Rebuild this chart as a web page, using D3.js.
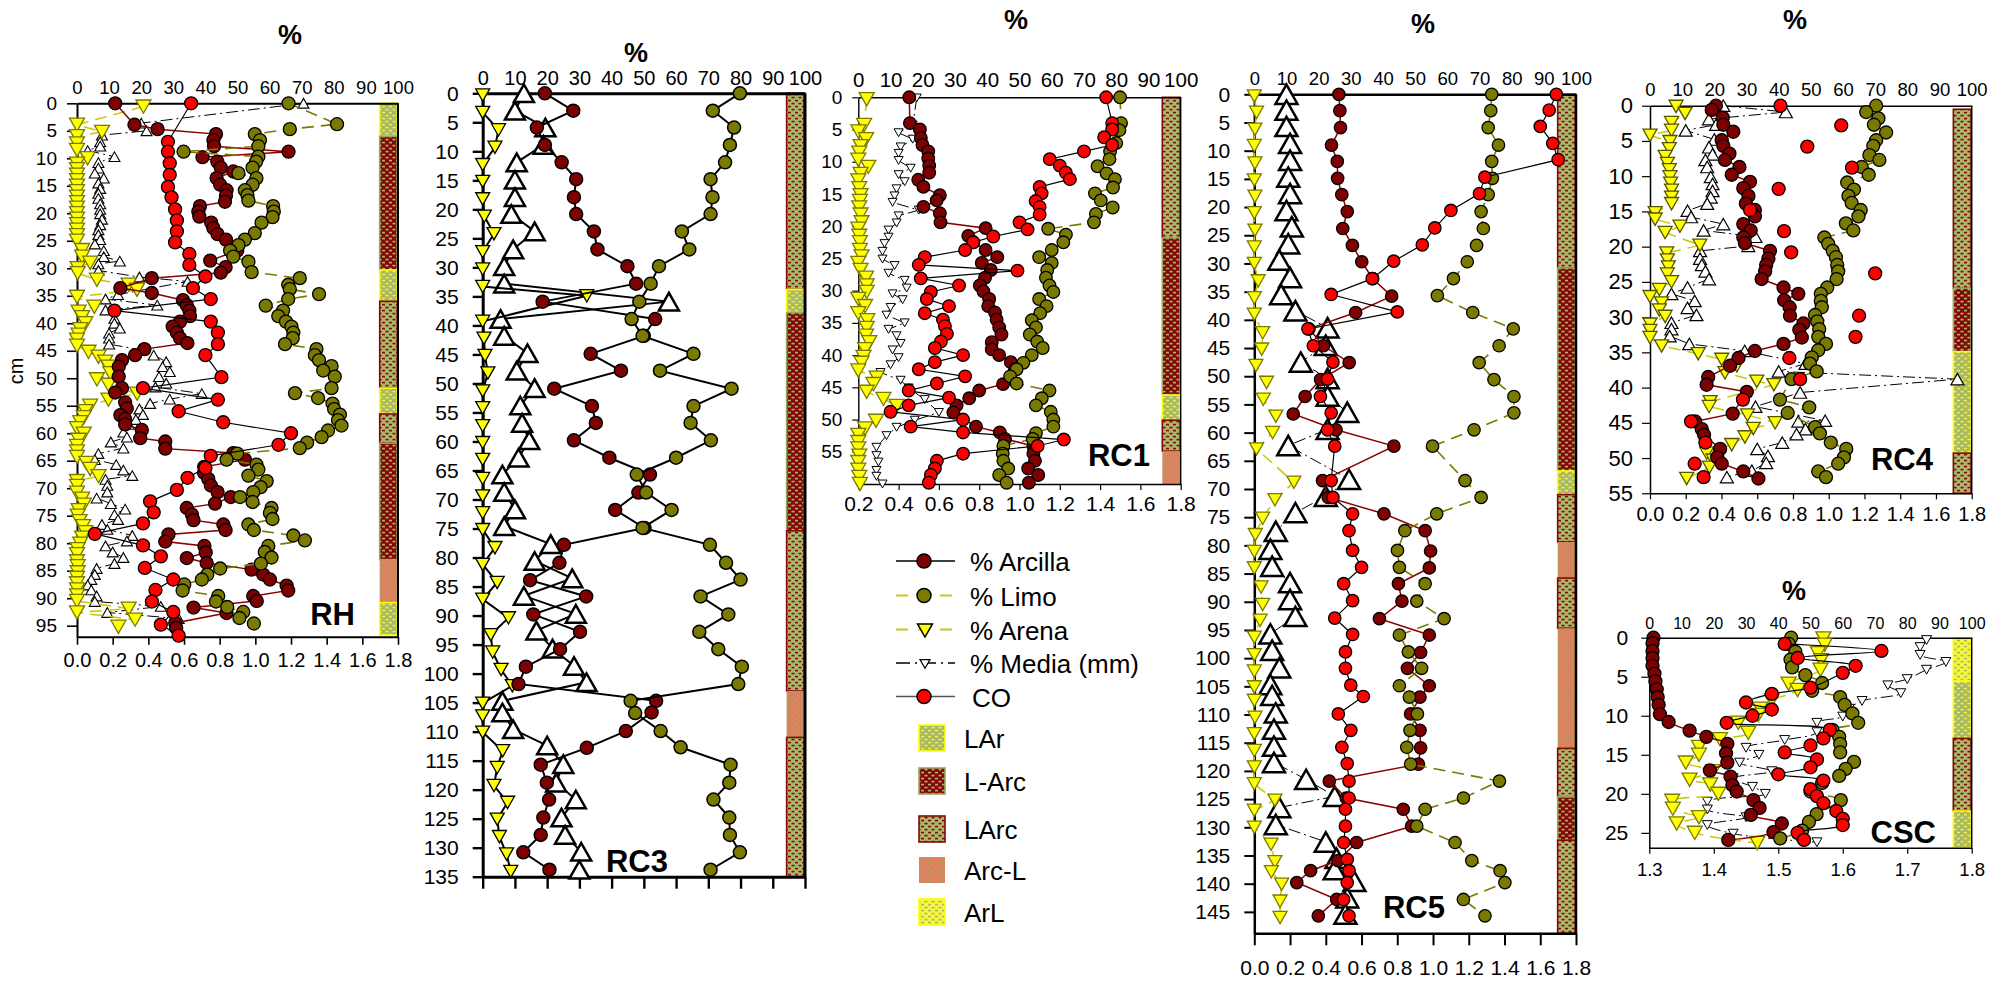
<!DOCTYPE html>
<html>
<head>
<meta charset="utf-8">
<script src="https://cdn.jsdelivr.net/npm/d3@7"></script>
<style>
  body { margin: 0; background: #fff; }
  svg { display: block; }
  text { font-family: "Liberation Sans", Arial, Helvetica, sans-serif; fill: #000; }
</style>
</head>
<body>
<svg id="chart" width="1992" height="983"></svg>
<script>
// ---------------------------------------------------------------
// Soil profiles: particle size (%), median grain (mm) and organic carbon
// Each profile point is [depth in cm, value]
// % series use the 0-100 top axis; Media (mm) and CO use the bottom axis
// ---------------------------------------------------------------
const seriesNames = ["% Arcilla", "% Limo", "% Arena", "% Media (mm)", "CO"];
const textureNames = ["LAr", "L-Arc", "LArc", "Arc-L", "ArL"];
const percentTicks = [0, 10, 20, 30, 40, 50, 60, 70, 80, 90, 100];
const mmTicks = [0, 0.2, 0.4, 0.6, 0.8, 1.0, 1.2, 1.4, 1.6, 1.8];
const rc1MmTicks = [0.2, 0.4, 0.6, 0.8, 1.0, 1.2, 1.4, 1.6, 1.8];
const cscMmTicks = [1.3, 1.4, 1.5, 1.6, 1.7, 1.8];
const rhDepthTicks = [0,5,10,15,20,25,30,35,40,45,50,55,60,65,70,75,80,85,90,95];
const rc3DepthTicks = [0,5,10,15,20,25,30,35,40,45,50,55,60,65,70,75,80,85,90,95,100,105,110,115,120,125,130,135];
const rc1DepthTicks = [0,5,10,15,20,25,30,35,40,45,50,55];
const rc5DepthTicks = [0,5,10,15,20,25,30,35,40,45,50,55,60,65,70,75,80,85,90,95,100,105,110,115,120,125,130,135,140,145];
const rc4DepthTicks = [0,5,10,15,20,25,30,35,40,45,50,55];
const cscDepthTicks = [0,5,10,15,20,25];

// ---------------- RH ----------------
const rhArcilla = [[0,11.9],[3.9,17.9],[4.7,25.1],[5.6,43.3],[6.7,42.5],[7.8,42.7],[8.8,65.9],[9.8,39.1],[10.6,43.7],[11.7,44.8],[12.4,48.7],[13.6,43.5],[14.8,44.6],[15.8,46.6],[16.8,46.4],[17.9,46.1],[18.7,38.3],[19.7,37.8],[20.6,38.1],[21.7,41.8],[22.7,42.5],[23.8,43.8],[24.8,46.4],[26.8,49.9],[28.6,41.5],[29.8,46.3],[30.8,44.8],[31.8,23.3],[33.6,13.5],[34.5,23.3],[35.8,33],[36.7,34.2],[37.7,35],[38.7,35.2],[39.7,32.1],[40.6,29.8],[41.7,31.1],[42.7,32.1],[43.6,34.4],[44.7,21],[45.8,18.1],[46.7,14],[47.9,13],[49.7,13],[51.8,14],[52.6,11.9],[54.4,15],[55.5,15.5],[56.7,13.5],[57.4,15],[58.4,15],[59.4,20.2],[60.9,19.7],[61.5,27.5],[62.8,27.5],[63.6,48.7],[64.8,52.3],[66.1,39.6],[67.2,39.6],[68.3,40.9],[69.5,41.7],[70.7,43.8],[71.6,47.9],[72.8,43],[73.6,34.2],[74.8,35.8],[75.8,36.3],[76.6,45.6],[77.6,46.3],[78.4,28.5],[79.7,27.5],[80.5,39.7],[81.7,40.1],[82.7,34.2],[83.6,40.4],[84.8,54.4],[85.7,58],[86.6,60.1],[87.7,65.3],[88.6,65.8],[89.6,54.9],[90.5,56],[91.7,36.3],[92.7,46.6],[94.5,30.6],[95.4,30.9]];
const rhLimo = [[0,65.9],[3.8,81],[4.7,66.3],[5.6,55.4],[6.7,57],[7.8,56.5],[8.8,33.2],[9.7,56.5],[10.6,55.8],[11.7,54.7],[12.7,50.3],[13.6,55.9],[14.8,54.7],[15.8,52.3],[16.7,53.1],[17.7,53.4],[18.7,61.1],[19.7,61.3],[20.7,60.9],[21.7,57.5],[23.6,55.4],[24.8,52.3],[25.8,50.3],[26.8,47.7],[27.9,48.7],[28.8,53.4],[30.7,54.4],[31.8,69.4],[33,65.8],[33.8,66.3],[34.7,75.4],[35.6,65.8],[36.8,58.8],[37.7,64.2],[38.7,62.7],[39.7,65.1],[40.6,66.8],[41.7,67.4],[42.7,67.2],[43.8,64.8],[44.7,74.6],[45.8,74.1],[46.7,75.4],[47.8,79.3],[48.6,76.7],[49.7,80.3],[51.8,79.3],[52.7,67.9],[53.6,75.1],[54.6,79.6],[55.6,80.1],[56.6,81.9],[57.6,81.3],[58.6,82.4],[59.5,78.2],[60.7,76.2],[61.7,71.7],[62.7,69.4],[63.7,49.9],[64.8,46.6],[65.7,55.9],[66.6,56.5],[67.7,53.4],[68.7,59.1],[69.8,57.2],[70.7,54.9],[71.6,50.8],[72.5,54.7],[73.6,60.6],[74.5,60.1],[75.6,60.9],[76.6,53.4],[77.6,55.1],[78.6,67.4],[79.5,71],[80.5,59.6],[81.6,58.5],[82.6,60.6],[83.7,57.3],[84.6,44.6],[85.7,40.6],[86.6,38.9],[87.5,33.4],[88.6,32.9],[89.6,44],[90.6,43.3],[91.6,46.8],[92.5,51.8],[93.6,50.6],[94.6,55.1]];
const rhArena = [[0.6,20.7],[3.9,0],[5.2,7.8],[6,0],[7.3,0],[8.5,0],[10,3.3],[11,0],[12,0],[13,0],[14,0],[15,0],[16,0],[17,0],[18,0],[19,0],[20,0],[21,0],[22,0],[23,0],[24,0],[25,0],[26.7,1.6],[27.9,1.6],[29,4.1],[30,0.2],[30.9,0.2],[32.1,6.2],[33,16.1],[33.9,18.7],[35.2,0],[37,5.4],[37.9,0.5],[38.9,1.6],[40,2.6],[41.1,1],[42.1,0.5],[43,0],[44.1,0],[45.2,3.6],[46.1,6.7],[47,8.8],[47.9,9.8],[49.1,10.4],[50.2,6.2],[51.2,9.8],[52.8,18.7],[53.9,9.8],[55,4.1],[56,2.6],[57.1,2.1],[58,1],[59.1,0],[60.1,2.1],[61.2,0.5],[62.3,0],[63.3,0],[64.3,0],[65.4,2.9],[66.5,4.1],[67.8,6.7],[68.7,0],[69.6,0],[70.8,0],[71.9,1.6],[73,2.1],[74,0.5],[75,0.2],[76,0.8],[76.9,1.9],[78,2.6],[79,1.6],[80.1,1],[81.1,0.2],[82,0],[83.3,0],[84.2,0.2],[85.3,0.2],[86.3,0],[87.3,0],[88.4,0],[89.5,0],[90.5,0],[91.9,16.1],[92.6,0],[93.9,18.1],[95.2,12.9]];
const rhMedia = [[0,1.27],[3.6,0.36],[5,0.39],[5.8,0.14],[7,0.13],[7.8,0.13],[8.6,0.06],[9.7,0.21],[10.8,0.12],[11.8,0.12],[12.7,0.10],[13.6,0.15],[14.5,0.12],[15.5,0.13],[16.4,0.12],[17.3,0.12],[18.3,0.13],[19.3,0.13],[20.1,0.13],[21.1,0.14],[22.1,0.13],[23,0.12],[23.9,0.12],[24.8,0.13],[25.6,0.10],[26.8,0.15],[27.9,0.15],[28.7,0.24],[29.2,0.12],[30.4,0.12],[31.6,0.35],[32.4,0.62],[34.8,0.23],[35.6,0.16],[36.7,0.45],[37.6,0.16],[39.1,0.21],[40,0.21],[40.9,0.24],[41.8,0.18],[42.7,0.18],[43.8,0.18],[44.8,0.35],[45.8,0.43],[47,0.50],[47.9,0.48],[48.8,0.52],[49.7,0.46],[50.9,0.50],[51.6,0.44],[52.8,0.70],[53.8,0.52],[54.6,0.41],[55.6,0.35],[56.6,0.37],[57.5,0.33],[58.4,0.29],[59.8,0.26],[60.7,0.28],[61.6,0.19],[62.7,0.26],[63.7,0.12],[64.8,0.10],[65.7,0.22],[66.7,0.26],[67.7,0.31],[68.4,0.16],[69.5,0.17],[70.7,0.17],[71.8,0.11],[72.8,0.19],[73.8,0.27],[74.8,0.21],[75.7,0.23],[76.6,0.14],[77.5,0.17],[78.6,0.31],[79.6,0.28],[80.5,0.16],[81.6,0.20],[82.6,0.26],[83.7,0.21],[84.6,0.11],[85.7,0.10],[86.6,0.08],[87.6,0.06],[88.5,0.08],[89.6,0.11],[90.6,0.10],[91.5,0.47],[92.6,0.17],[93.7,0.57]];
const rhCO = [[0,0.64],[7,0.51],[8.8,0.51],[10.9,0.52],[13,0.52],[15.2,0.51],[17.1,0.53],[19.3,0.55],[21.3,0.56],[23.3,0.56],[25.3,0.55],[27.4,0.63],[29.4,0.63],[31.5,0.72],[33.6,0.65],[35.6,0.75],[37.7,0.21],[39.7,0.75],[41.7,0.79],[43.8,0.79],[45.8,0.72],[49.8,0.81],[51.8,0.37],[53.9,0.79],[56,0.57],[58,0.82],[60,1.20],[62.1,1.13],[64.1,0.75],[66.3,0.72],[68.1,0.62],[70.3,0.56],[72.4,0.41],[74.4,0.43],[76.4,0.37],[78.3,0.10],[80.4,0.37],[82.4,0.47],[84.5,0.38],[86.6,0.54],[88.5,0.44],[90.6,0.42],[92.5,0.54],[94.8,0.47],[96.8,0.57]];
const rhLayers = [["LAr",0,6],["L-Arc",6,30.3],["LAr",30.3,36],["LArc",36,51.8],["LAr",51.8,56.5],["LArc",56.5,61.8],["L-Arc",61.8,83],["Arc-L",83,90.8],["LAr",90.8,96.7]];

// ---------------- RC3 ----------------
const rc3Arcilla = [[0,19.3],[3,28.1],[5.9,16.8],[8.9,19.3],[11.9,24.5],[14.8,29],[17.9,28.3],[20.8,29],[23.8,34.5],[26.9,35.6],[29.8,44.9],[32.8,47.6],[35.9,18.6],[38.9,53.5],[41.8,50],[44.9,33.5],[47.8,42.9],[50.9,22.2],[53.9,33.9],[56.8,35.1],[59.8,28.3],[62.8,39.3],[65.7,51.9],[68.8,48.3],[71.8,41.1],[74.9,50.2],[77.8,25.2],[80.9,23.8],[83.9,14.7],[86.7,32.1],[89.8,15.7],[92.8,30.2],[95.8,24],[98.8,13.4],[101.8,11.1],[104.7,53.8],[106.7,52.4],[109.9,44.4],[112.8,32.3],[115.7,18],[118.8,19.9],[121.7,20.6],[124.8,18.8],[127.8,18],[130.8,12.6],[133.8,20.7]];
const rc3Limo = [[0,79.8],[3,71.4],[5.9,78],[8.9,76.7],[11.9,75.2],[14.8,70.7],[17.9,71.3],[20.8,70.7],[23.8,61.8],[26.9,64.1],[29.8,54.7],[32.8,52.1],[35.9,48.6],[38.9,46.2],[41.8,49.6],[44.9,65.4],[47.8,55],[50.9,77.2],[53.9,65.4],[56.8,64.5],[59.8,70.8],[62.8,60],[65.7,47.8],[68.8,50.7],[71.8,58.6],[74.9,49.6],[77.8,70.5],[80.9,75.5],[83.8,80],[86.7,67.6],[89.8,76.2],[92.8,67.2],[95.8,73.1],[98.8,80.4],[101.8,79.3],[104.7,45.9],[106.8,47.3],[109.9,55.2],[112.7,61.4],[115.7,76.9],[118.8,76.5],[121.7,71.6],[124.8,76.5],[127.8,76.7],[130.8,79.8],[133.8,70.7]];
const rc3Arena = [[0.3,0],[3.3,0],[6.3,4.9],[9.3,3.8],[12.3,0],[15.2,0],[18.2,0],[21.2,0.5],[24.2,3.5],[27.3,0],[30.3,0],[33.3,0],[34.9,32.3],[39.3,0],[42.2,0.4],[45.2,0.7],[48.2,1.6],[51.3,0],[54.2,0],[57.3,0],[60.2,0],[63.1,0],[66.4,0],[69.4,0],[72.3,0],[75.2,0],[78.3,3.8],[81.2,0],[84.3,4.5],[87.2,0],[90.4,8],[93.3,2.5],[96.3,3.1],[99.3,5.7],[102.1,9.2],[105.1,0],[107.3,0],[110.1,0],[113.3,6.2],[116.2,4.5],[119.3,3.5],[122.2,7.7],[125.1,4.5],[128.1,5.2],[131.1,7.4],[134.1,8.7]];
const rc3Media = [[0,0.23],[3,0.18],[5.9,0.35],[8.9,0.34],[11.9,0.19],[14.9,0.18],[17.9,0.18],[20.8,0.16],[23.8,0.29],[26.9,0.17],[29.8,0.12],[32.8,0.12],[35.9,1.04],[38.9,0.10],[41.8,0.12],[44.8,0.25],[47.8,0.19],[50.8,0.29],[53.8,0.21],[56.8,0.22],[59.8,0.26],[62.8,0.20],[65.7,0.11],[68.7,0.12],[71.7,0.18],[74.6,0.12],[77.7,0.38],[80.6,0.29],[83.6,0.50],[86.6,0.23],[89.7,0.52],[92.6,0.30],[95.7,0.39],[98.7,0.51],[101.5,0.58],[104.7,0.11],[106.7,0.11],[109.6,0.17],[112.4,0.36],[115.6,0.45],[118.8,0.41],[121.7,0.52],[124.8,0.44],[127.8,0.46],[130.7,0.55],[133.8,0.54]];
const rc3Layers = [["LArc",0,33.8],["LAr",33.8,37.8],["L-Arc",37.8,75.4],["LArc",75.4,103],["Arc-L",103,111],["LArc",111,135]];

// ---------------- RC1 ----------------
const rc1Arcilla = [[0,15.8],[4,16],[5,19.1],[6.3,19.4],[7.4,19.9],[8.4,21.7],[9.5,21.7],[10.6,22],[11.7,22],[12.8,18.6],[13.9,20.2],[15.2,25.3],[16,24.3],[17,20.2],[18,25.3],[19.4,25.5],[20.3,39.5],[21.5,34.1],[22.5,35.7],[23.7,39.5],[24.8,43.1],[25.7,38.3],[26.8,41.1],[28,39.3],[29.2,37.7],[30.1,38.8],[31.3,40.6],[32.4,40.3],[33.4,42.4],[34.5,42.9],[35.7,43.7],[36.8,44.4],[38,41.4],[39.1,41.4],[40,43.7],[41.1,47.3],[42.2,48.6],[44.5,44.9],[45.5,37.5],[46.7,34.4],[47.8,30.5],[48.9,29.5],[51.1,36.5],[52,43.9],[53,45.5],[54.1,54.3],[55.3,54.3],[56.4,54.8],[57.6,52.7],[58.6,55.8],[59.8,52.9]];
const rc1Limo = [[0,81.2],[4,81.5],[5.1,81],[7.1,80],[8.4,78.1],[9.6,77.9],[10.7,74.2],[11.8,77],[12.7,79.6],[14,79],[14.9,73.4],[16,75.2],[17.1,78.9],[18.1,73.7],[19.4,73.1],[20.4,58.9],[21.3,64.4],[22.5,63.6],[23.7,60],[24.8,56.1],[25.7,60],[26.8,58.6],[28,58.2],[29.2,59.3],[30.2,60.5],[31.3,56.1],[32.4,58.4],[33.5,56.4],[34.6,53.8],[35.7,55.1],[36.8,53.2],[37.9,55.5],[38.9,57.2],[40,53.8],[41.2,51.2],[42.2,49.1],[43.3,47.1],[44.4,49.1],[45.5,59.3],[46.7,56.9],[47.8,55.1],[48.8,59.7],[50,60.5],[51.1,60.5],[52.1,55.1],[53,54.1],[54.1,45],[55.3,44.8],[56.4,45],[57.6,46.5],[58.6,43.7],[59.8,46]];
const rc1Arena = [[0.3,2.6],[4.3,1.8],[5.3,0],[6.5,2.4],[7.6,0.7],[8.6,0.3],[9.7,0],[10.8,3.1],[11.9,0.7],[12.9,0],[14.1,0.3],[15.2,0.7],[16.1,0.5],[17.1,0.3],[18.2,0.7],[19.4,1],[20.4,0],[21.5,0.3],[22.5,0.5],[23.7,0.5],[24.7,1],[25.7,0],[26.8,0.7],[28,2.4],[29.2,2.6],[30.2,2.6],[31.3,0],[32.4,2.1],[33.5,0],[34.6,2.8],[35.8,2.6],[37,2.4],[38,3.4],[39.1,2.1],[40.3,1.6],[41.2,1],[42.4,0],[43.5,5.7],[44.5,4.7],[45.7,2.6],[46.8,7.8],[47.9,11.9],[50.2,5.5],[51.4,2.1],[52.4,0],[53.5,0],[54.5,0],[55.6,0.3],[56.6,0],[57.8,0],[58.9,0.3],[60,0.5]];
const rc1Media = [[0.1,0.49],[4.3,0.47],[5.5,0.40],[6.5,0.47],[7.7,0.41],[8.7,0.40],[9.8,0.40],[11,0.46],[12,0.40],[13.1,0.43],[14.2,0.39],[15.3,0.38],[16.3,0.37],[17.5,0.50],[18.4,0.40],[19.5,0.39],[20.6,0.35],[21.7,0.35],[22.7,0.33],[23.9,0.32],[25.1,0.32],[26.1,0.38],[27.3,0.35],[28.4,0.43],[29.6,0.44],[30.5,0.37],[31.4,0.42],[32.6,0.36],[33.8,0.34],[35,0.43],[36,0.35],[37,0.39],[38.2,0.41],[39.2,0.37],[40.4,0.40],[41.5,0.36],[42.7,0.31],[43.9,0.41],[45.1,0.45],[46.9,0.53],[48.9,0.60],[50.1,0.48],[51.2,0.39],[52.5,0.34],[54.3,0.29],[55.6,0.29],[56.6,0.30],[57.9,0.29],[58.8,0.29],[60,0.32]];
const rc1CO = [[0,1.43],[4,1.46],[5,1.46],[6.2,1.42],[7.4,1.46],[8.4,1.32],[9.6,1.15],[10.6,1.20],[11.7,1.23],[12.7,1.25],[13.9,1.10],[14.9,1.11],[16.1,1.08],[17,1.10],[18.2,1.10],[19.4,1.00],[20.5,1.04],[21.6,0.87],[22.5,0.77],[23.7,0.73],[24.8,0.53],[26,0.50],[26.9,0.99],[28.1,0.51],[29.2,0.70],[30.2,0.56],[31.3,0.54],[32.4,0.65],[33.5,0.53],[34.5,0.62],[35.5,0.63],[36.7,0.64],[37.9,0.61],[38.9,0.58],[40,0.72],[41.1,0.58],[42.2,0.50],[43.3,0.73],[44.4,0.59],[45.5,0.45],[46.6,0.65],[47.8,0.45],[48.8,0.36],[50,0.72],[51.1,0.46],[52,0.72],[53.1,1.22],[54.1,1.09],[55.3,0.72],[56.4,0.59],[57.6,0.58],[58.6,0.56],[59.8,0.55]];
const rc1Layers = [["LArc",0,21.8],["L-Arc",21.8,46.2],["LAr",46.2,50.1],["LArc",50.1,54.9],["Arc-L",54.9,60]];

// ---------------- RC5 ----------------
const rc5Arcilla = [[0,26.3],[2.9,26.6],[5.9,26.8],[9,24],[11.9,25.8],[14.9,25.9],[17.8,27.2],[20.8,28.9],[23.8,27.5],[26.8,30.5],[29.7,33.4],[32.7,36.8],[35.8,42.7],[38.7,31.5],[41.6,17],[44.6,21.5],[47.6,29.5],[50.6,20.6],[53.6,15.8],[56.7,12.1],[59.5,25.4],[62.4,43.4],[68.5,21.2],[71.5,23],[74.4,40.3],[77.4,53.1],[81,54.8],[84,54.4],[86.8,44.8],[89.9,45.9],[93,38.9],[95.9,54.4],[99,51.7],[101.8,47.6],[104.9,54.4],[106.9,51.5],[109.9,48.6],[112.8,51.5],[115.9,51.7],[118.8,51],[121.8,23.3],[124.8,28.6],[126.8,46.3],[129.8,48.9],[132.7,31.8],[135.9,26],[137.7,17.5],[139.8,13.2],[142.8,25.6],[145.7,19.9]];
const rc5Limo = [[0,73.8],[2.9,73.5],[5.9,72.7],[9,75.9],[11.9,73.8],[14.9,74],[17.8,72.7],[20.8,70.5],[23.8,71.2],[26.8,69.1],[29.7,66.2],[32.7,61.9],[35.7,56.9],[38.7,67.9],[41.6,80.5],[44.6,76.1],[47.6,69.9],[50.6,74.5],[53.6,80.7],[56.5,80.7],[59.5,68.3],[62.4,55.4],[68.5,65.5],[71.5,70.5],[74.4,56.7],[77.4,46.8],[80.9,44.5],[83.9,45.1],[86.8,53.1],[89.9,50.5],[93,59],[95.9,45.1],[98.9,47.9],[101.8,52],[104.9,45.1],[106.9,48.2],[109.9,50.7],[112.8,48.4],[115.8,47.4],[118.8,48.6],[121.8,76.2],[124.8,65],[126.8,53.1],[129.8,50.5],[132.7,62.4],[135.9,67.6],[137.7,76.4],[139.8,77.9],[142.8,65],[145.7,71.7]];
const rc5Arena = [[0.3,0],[3.2,0.7],[6.2,0.2],[9.1,0],[12.2,0.2],[15.2,0],[18.1,0.2],[21,0],[24.1,0.2],[27.1,0],[30,0],[33.1,1.2],[36.1,0],[39,0],[42.3,2.6],[45.2,2.3],[48.1,0.5],[51.1,3.8],[54.1,2.8],[57.1,6.7],[60,5.7],[62.9,0.7],[68.8,12.3],[71.9,6.4],[75.2,2.6],[78.1,0.3],[81.1,0],[84,0],[87.4,2.1],[90.5,2.6],[93.3,1.8],[96.3,0],[99.4,0],[102.3,0],[105.1,0],[107.5,0],[110.5,0.2],[113.4,0],[116.4,0],[119.3,0],[122.3,0],[125.2,6.4],[127,0],[130,0],[133,5.2],[136.1,6.4],[137.9,5.3],[140.1,8.5],[143.1,8],[146,8]];
const rc5Media = [[0,0.18],[2.8,0.18],[5.7,0.18],[8.7,0.20],[11.7,0.20],[14.7,0.19],[17.6,0.20],[20.6,0.18],[23.5,0.21],[26.5,0.19],[29.4,0.14],[32.5,0.20],[35.5,0.15],[38.4,0.23],[41.4,0.41],[44.5,0.40],[47.5,0.26],[50.4,0.41],[53.5,0.41],[56.4,0.52],[59.4,0.41],[62.3,0.19],[68.3,0.53],[71.3,0.40],[74.2,0.23],[77.5,0.12],[80.7,0.09],[83.7,0.10],[86.6,0.20],[89.6,0.20],[92.6,0.23],[95.7,0.09],[98.6,0.10],[101.7,0.14],[104.7,0.09],[106.6,0.10],[109.7,0.12],[112.6,0.11],[115.6,0.11],[118.5,0.11],[121.5,0.29],[124.5,0.45],[126.5,0.14],[129.5,0.12],[132.6,0.40],[135.5,0.46],[137.5,0.45],[139.6,0.56],[142.5,0.52],[145.4,0.51]];
const rc5CO = [[0,1.69],[2.8,1.65],[5.7,1.60],[8.7,1.67],[11.6,1.70],[14.7,1.29],[17.6,1.26],[20.6,1.10],[23.7,1.01],[26.7,0.94],[29.6,0.78],[32.7,0.66],[35.5,0.43],[38.6,0.80],[41.6,0.30],[44.6,0.33],[47.5,0.44],[50.5,0.41],[53.6,0.37],[56.5,0.43],[59.5,0.41],[62.4,0.45],[68.5,0.43],[71.5,0.44],[74.4,0.55],[77.4,0.53],[80.9,0.55],[83.9,0.60],[86.8,0.50],[89.8,0.55],[92.9,0.45],[95.8,0.55],[98.9,0.51],[101.8,0.51],[104.8,0.54],[106.8,0.61],[109.9,0.47],[112.8,0.54],[115.8,0.49],[118.7,0.52],[121.8,0.53],[124.8,0.53],[126.8,0.51],[129.8,0.51],[132.7,0.50],[135.7,0.52],[137.7,0.53],[139.8,0.52],[142.8,0.50],[145.7,0.53]];
const rc5Layers = [["LArc",0,30.8],["L-Arc",30.8,66.8],["LAr",66.8,71],["LArc",71,79.4],["Arc-L",79.4,85.8],["LArc",85.8,94.7],["Arc-L",94.7,116],["LArc",116,124.6],["L-Arc",124.6,132.3],["LArc",132.3,148.8]];

// ---------------- RC4 ----------------
const rc4Arcilla = [[0,20.5],[0.6,19.2],[1.7,22.6],[2.7,22.8],[3.7,25.9],[4.9,22.3],[5.7,22.8],[6.8,24.7],[7.7,23.3],[8.7,27.8],[9.8,25.4],[10.8,31.1],[11.7,29],[12.8,30.6],[13.9,29.8],[14.8,32.6],[15.7,32.6],[16.8,29],[17.7,31.3],[18.7,29],[19.5,29.5],[20.6,37.3],[21.7,36.8],[22.6,36.1],[23.5,35.8],[24.6,34.7],[25.8,41.5],[26.7,46.1],[27.6,41.7],[28.6,43.4],[29.8,43.5],[30.9,47.7],[31.8,46.4],[32.9,47.2],[33.8,41.5],[34.8,32.6],[35.8,27.5],[36.9,24.9],[38.5,18.1],[39.6,17.6],[40.6,30.1],[43.7,25.7],[44.8,14],[45.9,16.1],[46.7,16.8],[48.7,21.8],[49.9,20.9],[50.8,22.3],[51.9,29],[52.9,33.7]];
const rc4Limo = [[0,70.3],[0.9,67.2],[1.8,71],[2.7,69.6],[3.8,73.4],[4.9,70.3],[5.7,69.4],[7,68.2],[7.7,71.3],[8.7,65.8],[9.8,68],[10.9,61.3],[11.9,63.4],[12.8,61.7],[13.8,62.7],[14.8,65.5],[15.7,64.8],[16.7,60.9],[17.7,63.2],[18.7,54.2],[19.6,55.4],[20.6,56.8],[21.5,57.8],[22.6,58.2],[23.5,58.5],[24.6,58],[25.8,55.1],[26.7,53.1],[27.7,53.1],[28.6,53.4],[29.7,51.3],[30.6,52],[31.7,52.6],[32.8,52.3],[33.8,54.7],[34.7,52.3],[35.7,50.3],[36.6,49.7],[37.7,51.8],[38.8,44],[41.7,40.4],[42.8,49.5],[43.6,42.8],[45.6,51.3],[46.5,52.8],[47.8,56.2],[48.7,61],[49.9,60.3],[50.8,58.5],[51.9,52.3],[52.7,54.7]];
const rc4Arena = [[0.1,8.1],[1.1,10.9],[2.4,6.7],[3.5,6.7],[4.2,0],[5.1,6.2],[6.1,6],[7.2,4.7],[8.2,5.4],[9.1,6],[10.1,6.2],[11,6.4],[12,6.7],[13,6.7],[13.9,6.7],[15.2,1.6],[16.1,1.6],[17.1,9.3],[18,4.7],[19.8,15.5],[20.9,5.2],[21.9,5.4],[22.9,5.7],[23.9,5.4],[25,6.7],[26.1,2.9],[27.1,0],[28,3.6],[29,2.9],[29.9,4.7],[31,0],[31.9,0],[32.9,0],[34.1,3.6],[35.2,15],[36,22.3],[36.9,27],[37.9,23.3],[39.1,33.2],[39.6,38.5],[42,18.7],[42.7,18.4],[43.9,30.3],[45,38.9],[45.8,32.1],[47,29.5],[48.1,25.4],[49.3,17.6],[50.3,19.6],[51.3,18.5],[52.9,11.4]];
const rc4Media = [[0,0.41],[0.9,0.76],[1.9,0.33],[2.7,0.37],[3.5,0.20],[4.8,0.36],[5.9,0.33],[6.9,0.35],[7.7,0.31],[8.7,0.32],[10.1,0.34],[11.1,0.35],[12.1,0.35],[13,0.34],[13.9,0.32],[14.9,0.21],[15.8,0.23],[16.8,0.41],[17.7,0.30],[18.6,0.59],[19.9,0.55],[20.6,0.28],[21.7,0.28],[22.6,0.29],[23.5,0.31],[24.6,0.33],[25.8,0.21],[26.7,0.12],[27.7,0.25],[28.7,0.21],[29.7,0.26],[30.8,0.12],[31.7,0.12],[32.7,0.11],[33.8,0.22],[34.8,0.53],[36.6,0.87],[37.7,0.72],[38.8,1.72],[40.7,0.84],[42.7,0.59],[44.7,0.98],[44.8,0.83],[45.9,0.87],[46.6,0.82],[47.8,0.74],[48.7,0.60],[49.7,0.66],[50.7,0.65],[51.8,0.57],[52.7,0.43]];
const rc4CO = [[0,0.73],[2.8,1.07],[5.8,0.88],[8.8,1.13],[11.8,0.72],[14.8,0.56],[17.8,0.75],[20.8,0.79],[23.8,1.26],[29.8,1.17],[32.8,1.15],[35.8,0.78],[38.8,0.84],[41.7,0.52],[44.8,0.23],[47.8,0.31],[50.8,0.25],[52.7,0.30]];
const rc4Layers = [["LArc",0.5,25.9],["L-Arc",25.9,34.9],["LAr",34.9,49.3],["LArc",49.3,55]];

// ---------------- CSC ----------------
const cscArcilla = [[0,1.3],[0.7,1],[1.7,1],[2.6,1],[3.6,1],[4.6,1.6],[5.6,1.9],[6.6,2.3],[7.6,2.6],[8.6,2.9],[9.8,3.3],[10.8,6],[11.9,12.5],[12.7,17.7],[13.6,24.2],[14.8,23.8],[16,24.2],[17,18.8],[17.8,25.2],[18.9,25.8],[19.7,27.1],[20.8,32.3],[21.8,34.2],[22.7,31.5],[23.8,41.1],[24.9,38.5],[25.9,24.5]];
const cscLimo = [[0,44],[0.8,43.3],[1.8,45.3],[2.8,43.8],[3.8,44.3],[4.8,48.4],[5.8,53.6],[6.8,50.5],[7.6,59.2],[8.6,60.6],[9.7,63],[10.9,64.8],[11.8,56.8],[12.7,58.9],[13.6,59.2],[14.7,59.2],[15.9,63.5],[16.8,60.9],[17.7,58.9],[18.6,53.6],[19.7,50],[20.8,59.4],[22.6,51.9],[23.6,49.5],[24.7,47.4],[25.7,40.6]];
const cscArena = [[0.1,54],[0.9,54.4],[2,52.3],[2.9,53.3],[4.1,53.1],[5.9,43.2],[6.7,46],[8,38],[9.1,34.4],[9.9,33.8],[10.9,27.6],[12.2,30.7],[13,21.9],[14,15.4],[15,15.4],[16,11.3],[17.1,19.8],[18.2,12.5],[18.8,18.9],[20,21.4],[20.9,7.1],[21.9,7.3],[23,15.4],[23.8,8.5],[25,14.1],[26.3,33.5]];
const cscMedia = [[0.3,1.73],[1.2,1.72],[2.2,1.72],[3.1,1.76],[4.1,1.73],[5.3,1.70],[6.1,1.67],[7.1,1.69],[8.1,1.63],[9.1,1.61],[10.1,1.60],[10.9,1.56],[12.1,1.56],[13.1,1.51],[14.1,1.45],[15,1.47],[16,1.44],[17.1,1.49],[18,1.43],[19.1,1.46],[20,1.48],[21,1.39],[22,1.39],[23,1.45],[24,1.39],[25.1,1.43],[26.2,1.56]];
const cscCO = [[0.8,1.51],[1.7,1.66],[2.6,1.53],[3.6,1.62],[4.5,1.60],[6.4,1.55],[7.2,1.49],[8.3,1.45],[9.2,1.49],[10,1.46],[10.9,1.42],[11.8,1.58],[12.9,1.57],[13.8,1.55],[14.7,1.51],[15.6,1.56],[16.6,1.55],[17.5,1.50],[18.3,1.57],[19.4,1.55],[20.3,1.56],[21.2,1.57],[22.2,1.59],[23.2,1.60],[24,1.60],[25,1.53],[25.9,1.54]];
const cscLayers = [["ArL",0,5.6],["LAr",5.6,12.9],["LArc",12.9,22.2],["LAr",22.2,26.9]];

// ---------------------------------------------------------------
// Appearance
// ---------------------------------------------------------------
const COLORS = { arcilla: "#7f0000", limo: "#7a7a00", arena: "#ffff00", media: "#ffffff", co: "#ff0000" };

const textureStyle = {
  "LAr":   { bg: "#a8b86b", fg: "#f0f040", dot: [3, 1.6], border: "#ffff00" },
  "L-Arc": { bg: "#850808", fg: "#a8b86b", dot: [3, 1.6], border: "#9aa760" },
  "LArc":  { bg: "#a8b86b", fg: "#850808", dot: [3, 1.6], border: "#850808" },
  "Arc-L": { bg: "#d9825e", fg: "#9fb26a", dot: [1.2, 1.2], border: null },
  "ArL":   { bg: "#f6f63a", fg: "#a8b86b", dot: [3, 1.6], border: "#ffff00" }
};

const blackLines = {
  arcilla: { c: "#000", w: 2 }, limo: { c: "#000", w: 2 }, arena: { c: "#000", w: 2 },
  media: { c: "#000", w: 2 }, co: { c: "#000", w: 2 }
};
const colourLines = {
  arcilla: { c: "#8b0000", w: 1.5 },
  limo: { c: "#7a7a00", w: 1.6, dash: "12,7" },
  arena: { c: "#c8c800", w: 1.5, dash: "12,7" },
  media: { c: "#000", w: 1, dash: "12,4,2,4" },
  co: { c: "#000", w: 1.2 }
};

const panels = [
  { name: "RH", left: 77, right: 398, top: 103.3, bottom: 636.7, depthMax: 97,
    depthTicks: rhDepthTicks, mmDomain: [0, 1.8], mmTicks: mmTicks, mmLabels: true,
    data: { arcilla: rhArcilla, limo: rhLimo, arena: rhArena, media: rhMedia, co: rhCO }, layers: rhLayers,
    axisW: 2, yFont: 19, yTick: 10, yPad: 10, topFont: 18.5, topPad: 9, botFont: 20, botTick: 8, botPad: 8,
    r: 6.5, arenaW: 15, arenaStroke: "#7a7a00", mediaW: 11, mediaDown: false, mediaSW: 1.1, markSW: 1.3,
    lines: colourLines, title: [290, 44], label: [355, 625] },
  { name: "RC3", left: 482.7, right: 805, top: 93.3, bottom: 876.7, depthMax: 135,
    depthTicks: rc3DepthTicks, mmDomain: [0, 2], mmTicks: [0,0.2,0.4,0.6,0.8,1,1.2,1.4,1.6,1.8,2], mmLabels: false,
    data: { arcilla: rc3Arcilla, limo: rc3Limo, arena: rc3Arena, media: rc3Media }, layers: rc3Layers,
    axisW: 3, yFont: 21, yTick: 10, yPad: 14, topFont: 20, topPad: 8, botFont: 20, botTick: 12, botPad: 8,
    r: 6.5, arenaW: 14, arenaStroke: "#000", mediaW: 20, mediaDown: false, mediaSW: 2.5, markSW: 1.5,
    lines: blackLines, title: [636, 62], label: [668, 872], mediaScale: [0, 1.8] },
  { name: "RC1", left: 858.3, right: 1180.7, top: 97.3, bottom: 484, depthMax: 60,
    depthTicks: rc1DepthTicks, mmDomain: [0.2, 1.8], mmTicks: rc1MmTicks, mmLabels: true,
    data: { arcilla: rc1Arcilla, limo: rc1Limo, arena: rc1Arena, media: rc1Media, co: rc1CO }, layers: rc1Layers,
    axisW: 1.4, yFont: 19, yTick: 6, yPad: 10, topFont: 20.5, topPad: 10, botFont: 21, botTick: 6, botPad: 6,
    r: 6.3, arenaW: 15, arenaStroke: "#7a7a00", mediaW: 9, mediaDown: true, mediaSW: 1, markSW: 1.3,
    lines: colourLines, title: [1016, 29], label: [1150, 466] },
  { name: "RC5", left: 1254.3, right: 1576, top: 94.3, bottom: 933.3, depthMax: 148.8,
    depthTicks: rc5DepthTicks, mmDomain: [0, 1.8], mmTicks: mmTicks, mmLabels: true,
    data: { arcilla: rc5Arcilla, limo: rc5Limo, arena: rc5Arena, media: rc5Media, co: rc5CO }, layers: rc5Layers,
    axisW: 2.5, yFont: 21, yTick: 10, yPad: 14, topFont: 18.5, topPad: 9, botFont: 21, botTick: 12, botPad: 15,
    r: 6.2, arenaW: 14, arenaStroke: "#7a7a00", mediaW: 22, mediaDown: false, mediaSW: 2.5, markSW: 1.3,
    lines: colourLines, title: [1423, 33], label: [1445, 918] },
  { name: "RC4", left: 1650, right: 1971.7, top: 105.7, bottom: 493.3, depthMax: 55,
    depthTicks: rc4DepthTicks, mmDomain: [0, 1.8], mmTicks: mmTicks, mmLabels: true,
    data: { arcilla: rc4Arcilla, limo: rc4Limo, arena: rc4Arena, media: rc4Media, co: rc4CO }, layers: rc4Layers,
    axisW: 1.5, yFont: 22, yTick: 8, yPad: 9, topFont: 18.5, topPad: 10, botFont: 20, botTick: 6, botPad: 8,
    r: 6.5, arenaW: 14, arenaStroke: "#555500", mediaW: 13, mediaDown: false, mediaSW: 1.2, markSW: 1.3,
    lines: Object.assign({}, colourLines, { co: null }), title: [1795, 29], label: [1933, 470] },
  { name: "CSC", left: 1649.3, right: 1971.7, top: 637.7, bottom: 847.7, depthMax: 26.9,
    depthTicks: cscDepthTicks, mmDomain: [1.3, 1.8], mmTicks: cscMmTicks, mmLabels: true,
    data: { arcilla: cscArcilla, limo: cscLimo, arena: cscArena, media: cscMedia, co: cscCO }, layers: cscLayers,
    axisW: 1.5, yFont: 21, yTick: 8, yPad: 13, topFont: 16, topPad: 9, botFont: 18.5, botTick: 6, botPad: 9,
    r: 6.5, arenaW: 15, arenaStroke: "#7a7a00", mediaW: 10, mediaDown: true, mediaSW: 1, markSW: 1.3,
    lines: colourLines, curve: d3.curveCatmullRom.alpha(0.5), title: [1794, 600], label: [1936, 843] }
];

// ---------------------------------------------------------------
const svg = d3.select("#chart");
svg.append("rect").attr("width", 1992).attr("height", 983).attr("fill", "#fff");
const defs = svg.append("defs");

textureNames.forEach(name => {
  const st = textureStyle[name];
  const pat = defs.append("pattern")
    .attr("id", "tex-" + name)
    .attr("patternUnits", "userSpaceOnUse")
    .attr("width", 7).attr("height", 6);
  pat.append("rect").attr("width", 7).attr("height", 6).attr("fill", st.bg);
  pat.append("rect").attr("x", 0.5).attr("y", 0.8).attr("width", st.dot[0]).attr("height", st.dot[1]).attr("fill", st.fg);
  pat.append("rect").attr("x", 4).attr("y", 3.8).attr("width", st.dot[0]).attr("height", st.dot[1]).attr("fill", st.fg);
});

function triangle(w, down) {
  const h = w * 0.88;
  return down
    ? `M${-w / 2},${-h / 2}L${w / 2},${-h / 2}L0,${h / 2}Z`
    : `M${-w / 2},${h / 2}L${w / 2},${h / 2}L0,${-h / 2}Z`;
}

function drawPanel(p) {
  const g = svg.append("g").attr("class", "panel-" + p.name);
  const xPct = d3.scaleLinear().domain([0, 100]).range([p.left, p.right]);
  const xMm = d3.scaleLinear().domain(p.mediaScale || p.mmDomain).range([p.left, p.right]);
  const xTicksBottom = d3.scaleLinear().domain(p.mmDomain).range([p.left, p.right]);
  const y = d3.scaleLinear().domain([0, p.depthMax]).range([p.top, p.bottom]);

  // texture column at the right edge
  const colX0 = xPct(94.3), colX1 = xPct(99.8);
  g.append("g").selectAll("rect").data(p.layers).join("rect")
    .attr("x", colX0)
    .attr("y", d => y(d[1]))
    .attr("width", colX1 - colX0)
    .attr("height", d => y(d[2]) - y(d[1]))
    .attr("fill", d => `url(#tex-${d[0]})`)
    .attr("stroke", d => textureStyle[d[0]].border || "none")
    .attr("stroke-width", 1.6);

  // axes
  const left = g.append("g").attr("transform", `translate(${p.left},0)`)
    .call(d3.axisLeft(y).tickValues(p.depthTicks).tickSize(p.yTick).tickSizeOuter(0).tickPadding(p.yPad).tickFormat(d3.format("d")));
  left.select(".domain").attr("stroke-width", p.axisW);
  left.selectAll(".tick line").attr("stroke-width", Math.max(1.2, p.axisW * 0.8));
  left.selectAll("text").attr("font-size", p.yFont).attr("font-family", "Liberation Sans, Arial, sans-serif");

  const top = g.append("g").attr("transform", `translate(0,${p.top})`)
    .call(d3.axisTop(xPct).tickValues(percentTicks).tickSize(0).tickSizeOuter(0).tickPadding(p.topPad));
  top.select(".domain").attr("stroke-width", p.axisW);
  top.selectAll("text").attr("font-size", p.topFont).attr("font-family", "Liberation Sans, Arial, sans-serif");

  const bot = g.append("g").attr("transform", `translate(0,${p.bottom})`)
    .call(d3.axisBottom(xTicksBottom).tickValues(p.mmTicks).tickSize(p.botTick).tickSizeOuter(0).tickPadding(p.botPad)
      .tickFormat(p.mmLabels ? d3.format(".1f") : () => ""));
  bot.select(".domain").attr("stroke-width", p.axisW);
  bot.selectAll(".tick line").attr("stroke-width", Math.max(1.2, p.axisW * 0.8));
  bot.selectAll("text").attr("font-size", p.botFont).attr("font-family", "Liberation Sans, Arial, sans-serif");

  g.append("line").attr("x1", p.right).attr("x2", p.right).attr("y1", p.top).attr("y2", p.bottom)
    .attr("stroke", "#000").attr("stroke-width", p.axisW);

  // series: media, arena, arcilla, limo, co
  const order = [
    { key: "media", scale: xMm },
    { key: "arena", scale: xPct },
    { key: "arcilla", scale: xPct },
    { key: "limo", scale: xPct },
    { key: "co", scale: xMm }
  ];
  order.forEach(s => {
    const pts = p.data[s.key];
    if (!pts) return;
    const ls = p.lines[s.key];
    if (ls) {
      g.append("path").datum(pts)
        .attr("d", d3.line().x(d => s.scale(d[1])).y(d => y(d[0])).curve(p.curve || d3.curveLinear))
        .attr("fill", "none").attr("stroke", ls.c).attr("stroke-width", ls.w)
        .attr("stroke-dasharray", ls.dash || null);
    }
    const mg = g.append("g");
    if (s.key === "arena" || s.key === "media") {
      const isArena = s.key === "arena";
      mg.selectAll("path").data(pts).join("path")
        .attr("transform", d => `translate(${s.scale(d[1])},${y(d[0])})`)
        .attr("d", isArena ? triangle(p.arenaW, true) : triangle(p.mediaW, p.mediaDown))
        .attr("fill", isArena ? COLORS.arena : COLORS.media)
        .attr("stroke", isArena ? p.arenaStroke : "#000")
        .attr("stroke-width", isArena ? 1.3 : p.mediaSW)
        .attr("stroke-linejoin", "miter");
    } else {
      mg.selectAll("circle").data(pts).join("circle")
        .attr("cx", d => s.scale(d[1])).attr("cy", d => y(d[0])).attr("r", p.r)
        .attr("fill", COLORS[s.key]).attr("stroke", "#000").attr("stroke-width", p.markSW);
    }
  });

  // "%" heading and profile name
  g.append("text").attr("x", p.title[0]).attr("y", p.title[1]).attr("text-anchor", "middle")
    .attr("font-size", 27).attr("font-weight", "bold").text("%");
  g.append("text").attr("x", p.label[0]).attr("y", p.label[1]).attr("text-anchor", "end")
    .attr("font-size", 31).attr("font-weight", "bold").text(p.name);
}

panels.forEach(drawPanel);

// depth unit
svg.append("text").attr("transform", "translate(23,371) rotate(-90)").attr("text-anchor", "middle")
  .attr("font-size", 20).text("cm");

// ---------------------------------------------------------------
// Legend
// ---------------------------------------------------------------
const legend = svg.append("g").attr("class", "legend");
const legendRows = [
  { key: "arcilla", y: 561, line: { c: "#000", w: 1.5 } },
  { key: "limo", y: 595.5, line: { c: "#c8c820", w: 1.8, dash: "12,10" } },
  { key: "arena", y: 629.5, line: { c: "#c8c820", w: 1.8, dash: "12,10" } },
  { key: "media", y: 663, line: { c: "#000", w: 1.5, dash: "14,5,2,5" } },
  { key: "co", y: 696.5, line: { c: "#555", w: 1.5 } }
];
legendRows.forEach((row, i) => {
  legend.append("line").attr("x1", 896).attr("x2", 955).attr("y1", row.y).attr("y2", row.y)
    .attr("stroke", row.line.c).attr("stroke-width", row.line.w).attr("stroke-dasharray", row.line.dash || null);
  if (row.key === "arena" || row.key === "media") {
    const isArena = row.key === "arena";
    legend.append("path").attr("transform", `translate(925,${row.y + 1})`)
      .attr("d", triangle(isArena ? 15 : 10, true))
      .attr("fill", isArena ? COLORS.arena : "#fff")
      .attr("stroke", "#000").attr("stroke-width", isArena ? 1.5 : 1.2);
  } else {
    legend.append("circle").attr("cx", 924).attr("cy", row.y).attr("r", 7)
      .attr("fill", COLORS[row.key]).attr("stroke", "#000").attr("stroke-width", 1.5);
  }
  legend.append("text").attr("x", row.key === "co" ? 972 : 970).attr("y", row.y + 10)
    .attr("font-size", 26).text(seriesNames[i]);
});
const legendPatchY = [738, 781, 829, 870, 912];
textureNames.forEach((name, i) => {
  const st = textureStyle[name];
  legend.append("rect").attr("x", 919).attr("y", legendPatchY[i] - 13).attr("width", 26).attr("height", 26)
    .attr("fill", `url(#tex-${name})`).attr("stroke", st.border || "none").attr("stroke-width", 1.6);
  legend.append("text").attr("x", 964).attr("y", legendPatchY[i] + 10).attr("font-size", 26).text(name);
});
</script>
</body>
</html>
